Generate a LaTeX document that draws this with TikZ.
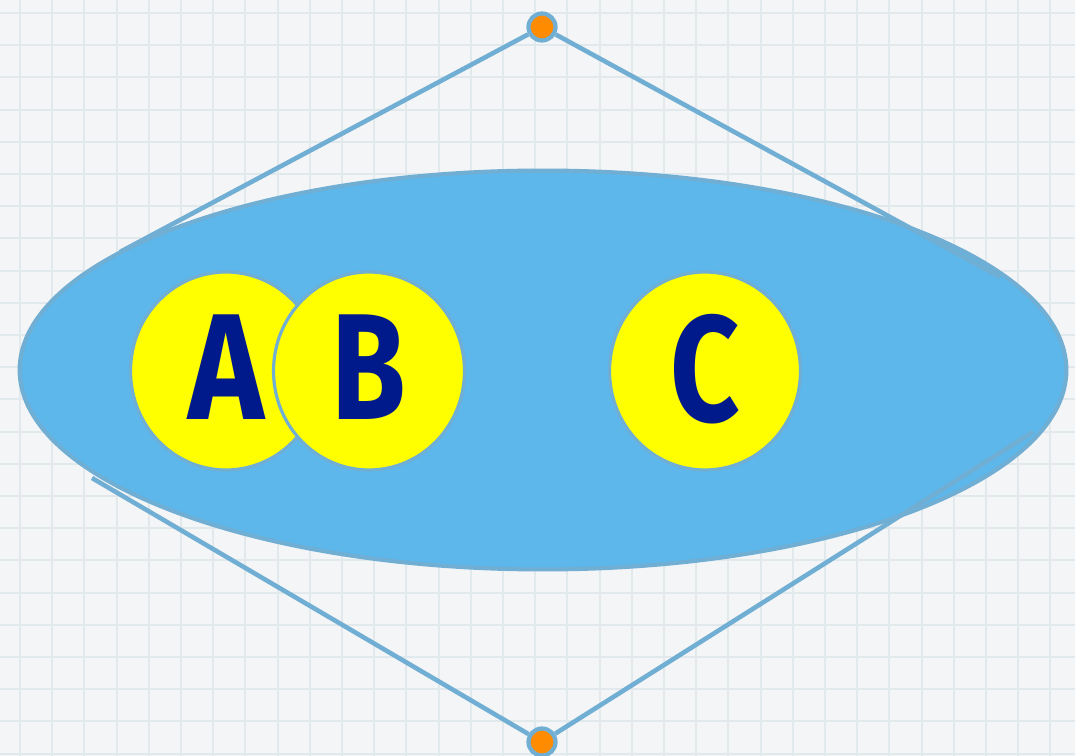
\documentclass[tikz,border=0pt]{standalone}
\usepackage{fontspec}
\newfontfamily\letterfont{Fira Sans}
\usetikzlibrary{shapes.geometric}
\definecolor{bgc}{RGB}{244,245,246}
\definecolor{gridc}{RGB}{226,233,237}
\definecolor{edgec}{RGB}{112,174,212}
\definecolor{ellfill}{RGB}{89,182,234}
\definecolor{ballc}{RGB}{255,255,0}
\definecolor{inkc}{RGB}{0,26,140}
\definecolor{dotc}{RGB}{255,140,0}
\tikzset{
  gridline/.style={draw=gridc, line width=1.1pt},
  bigoval/.style={ellipse, draw=edgec, line width=2.3pt, fill=ellfill, fill opacity=0.97,
     minimum width=20.94cm, minimum height=7.98cm, inner sep=0pt},
  ball/.style={ellipse, draw=edgec, line width=1.8pt, fill=ballc, minimum width=3.82cm,
     minimum height=3.96cm, inner sep=0pt, text=inkc,
     font=\letterfont\bfseries\fontsize{86}{90}\selectfont},
  wire/.style={draw=edgec, line width=2.6pt},
  knob/.style={circle, draw=edgec, line width=2.4pt, fill=dotc, minimum size=0.54cm, inner sep=0pt}
}
\begin{document}
\begin{tikzpicture}[x=0.02cm, y=-0.02cm]
\useasboundingbox (0,0) rectangle (1075,756);
\fill[bgc] (0,0) rectangle (1075,756);
\foreach \i in {0,...,33} {
  \draw[gridline] ({20+\i*32.2},0) -- ({20+\i*32.2},756);
}
\foreach \i in {0,...,23} {
  \draw[gridline] (0,{13+\i*32.2}) -- (1075,{13+\i*32.2});
}
\node[bigoval] (oval) at (543,370) {};
\node[knob] (top) at (542,27) {};
\node[knob] (bot) at (542,742) {};
\coordinate (ul) at (120,252);
\coordinate (ur) at (1000,277);
\coordinate (ll) at (92,478);
\coordinate (lr) at (1033,432);
\draw[wire] (top) -- (ul);
\draw[wire] (top) -- (ur);
\draw[wire] (bot) -- (ll);
\draw[wire] (bot) -- (lr);
\node[ball] (a) at (226,371) {\raisebox{4pt}{\scalebox{0.85}[1]{A}}};
\node[ball] (b) at (369,371) {\raisebox{4pt}{\scalebox{0.8}[1]{B}}};
\node[ball] (c) at (705,371) {\raisebox{4pt}{\scalebox{0.8}[1]{C}}};
\end{tikzpicture}
\end{document}
